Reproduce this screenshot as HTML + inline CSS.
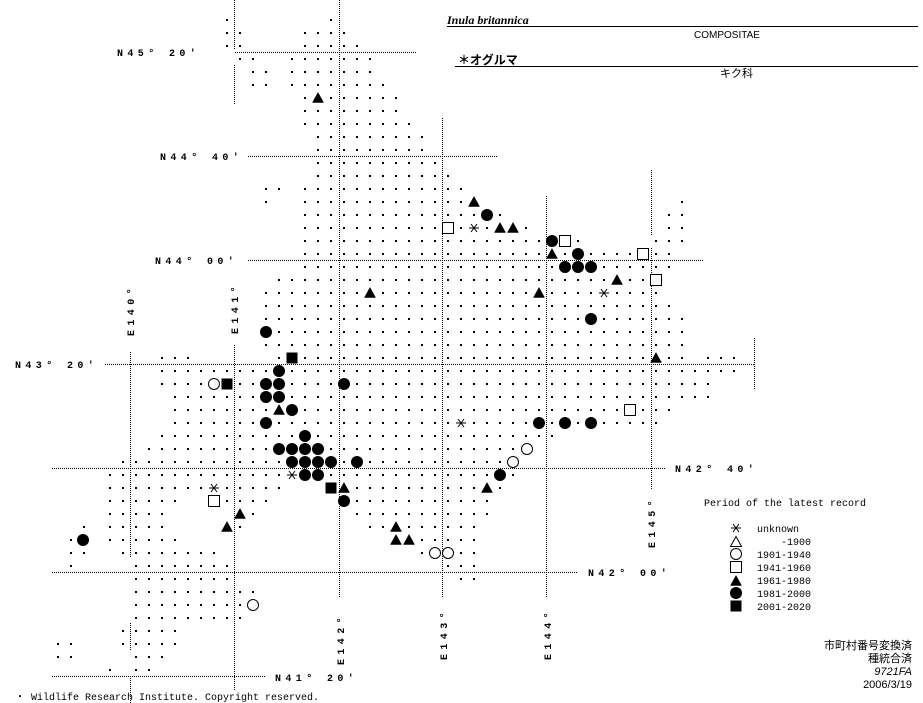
<!DOCTYPE html>
<html><head><meta charset="utf-8"><style>
html,body{margin:0;padding:0;background:#fff;width:923px;height:703px;overflow:hidden}
svg{display:block}
.lab{font-family:"Liberation Mono",monospace;font-weight:bold;font-size:10px;letter-spacing:4.4px}
.leg{font-family:"Liberation Mono",monospace;font-size:10px}
</style></head><body>
<svg id="s" width="923" height="703" xmlns="http://www.w3.org/2000/svg">
<g stroke="#000" stroke-width="1" stroke-dasharray="1,1" fill="none">
<line x1="235" y1="52.5" x2="417" y2="52.5"/>
<line x1="248" y1="156.5" x2="497" y2="156.5"/>
<line x1="248" y1="260.5" x2="703" y2="260.5"/>
<line x1="105" y1="364.5" x2="755" y2="364.5"/>
<line x1="52" y1="468.5" x2="665" y2="468.5"/>
<line x1="52" y1="572.5" x2="578" y2="572.5"/>
<line x1="52" y1="676.5" x2="265" y2="676.5"/>
<line x1="130.5" y1="352" x2="130.5" y2="558"/>
<line x1="130.5" y1="623" x2="130.5" y2="650"/>
<line x1="130.5" y1="678" x2="130.5" y2="703"/>
<line x1="234.5" y1="0" x2="234.5" y2="50"/>
<line x1="234.5" y1="65" x2="234.5" y2="105"/>
<line x1="234.5" y1="345" x2="234.5" y2="690"/>
<line x1="339.5" y1="0" x2="339.5" y2="598"/>
<line x1="442.5" y1="118" x2="442.5" y2="598"/>
<line x1="546.5" y1="196" x2="546.5" y2="598"/>
<line x1="651.5" y1="170" x2="651.5" y2="236"/>
<line x1="651.5" y1="248" x2="651.5" y2="490"/>
<line x1="754.5" y1="338" x2="754.5" y2="390"/>
</g>
<g class="lab">
<text x="117" y="56">N45° 20′</text>
<text x="160" y="160">N44° 40′</text>
<text x="155" y="264">N44° 00′</text>
<text x="15" y="368">N43° 20′</text>
<text x="675" y="472">N42° 40′</text>
<text x="588" y="576">N42° 00′</text>
<text x="275" y="681">N41° 20′</text>
<text transform="translate(134,336) rotate(-90)">E140°</text>
<text transform="translate(238,334) rotate(-90)">E141°</text>
<text transform="translate(344,665) rotate(-90)">E142°</text>
<text transform="translate(447,660) rotate(-90)">E143°</text>
<text transform="translate(551,660) rotate(-90)">E144°</text>
<text transform="translate(655,548) rotate(-90)">E145°</text>
</g>
<g id="dots" fill="#000"></g>
<g id="sym"></g>
<text x="447" y="24" style="font-family:'Liberation Serif',serif;font-style:italic;font-weight:bold;font-size:12px">Inula britannica</text>
<line x1="447" y1="26.5" x2="918" y2="26.5" stroke="#000"/>
<text x="727" y="38" text-anchor="middle" style="font-family:'Liberation Sans',sans-serif;font-size:10px">COMPOSITAE</text>
<text x="458" y="64" style="font-family:'Liberation Sans','Noto Sans CJK JP',sans-serif;font-weight:bold;font-size:12px">＊オグルマ</text>
<line x1="455" y1="66.5" x2="918" y2="66.5" stroke="#000"/>
<text x="720" y="77" style="font-family:'Liberation Sans','Noto Sans CJK JP',sans-serif;font-size:11px">キク科</text>
<g class="leg">
<text x="704" y="506">Period of the latest record</text>
<text x="757" y="532">unknown</text>
<text x="811" y="545" text-anchor="end">-1900</text>
<text x="757" y="558">1901-1940</text>
<text x="757" y="571">1941-1960</text>
<text x="757" y="584">1961-1980</text>
<text x="757" y="597">1981-2000</text>
<text x="757" y="610">2001-2020</text>
</g>
<g style="font-family:'Liberation Sans','Noto Sans CJK JP',sans-serif;font-size:11px" text-anchor="end">
<text x="912" y="649">市町村番号変換済</text>
<text x="912" y="662">種統合済</text>
<text x="912" y="675" font-style="italic">9721FA</text>
<text x="912" y="688">2006/3/19</text>
</g>
<text x="15" y="700" class="leg">・ Wildlife Research Institute. Copyright reserved.</text>
</svg>
<script>
var R={0:[[227],[331]],1:[[227,240],[305,344]],2:[[227,240],[305,357]],3:[[240,253],[292,370]],4:[[253,266],[292,370]],5:[[253,266],[292,383]],
6:[[305,396]],7:[[305,396]],8:[[305,409]],9:[[318,422]],10:[[318,422]],11:[[318,435]],12:[[318,448]],
13:[[266,279],[305,461]],14:[[266],[305,474],[682]],15:[[305,500],[669,682]],16:[[305,526],[669,682]],17:[[305,578],[656,682]],
18:[[305,669]],19:[[305,669]],20:[[279,656]],21:[[266,656]],22:[[266,669]],23:[[266,682]],24:[[266,682]],25:[[266,682]],
26:[[162,188],[279,682],[708,734]],27:[[162,734]],28:[[162,708]],29:[[175,708]],30:[[175,669]],31:[[175,656]],32:[[162,552]],
33:[[149,526]],34:[[123,513]],35:[[110,513]],36:[[110,280],[331,500]],37:[[110,175],[214,266],[344,487]],38:[[110,162],[240,253],[357,487]],
39:[[83],[110,162],[227,240],[370,474]],40:[[70,83],[110,175],[396,474]],41:[[70,83],[123,214],[422,474]],42:[[70],[136,227],[448,474]],
43:[[136,227],[461,474]],44:[[136,253]],45:[[136,253]],46:[[136,240]],47:[[123,173]],48:[[57,70],[123,173]],49:[[57,70],[136,162]],50:[[110],[136,149]]};
var h="";
for(var r in R){var y=20+13*r;R[r].forEach(function(s){var a=Math.round((s[0]-227)/13),b=Math.round(((s[1]||s[0])-227)/13);
for(var c=a;c<=b;c++){var x=227+13*c;h+='<rect x="'+(x-1)+'" y="'+(y-1)+'" width="2" height="2"/>';}});}
document.getElementById("dots").innerHTML=h;
function tri(x,y,f){return '<polygon points="'+x+','+(y-5.5)+' '+(x+5.5)+','+(y+4.5)+' '+(x-5.5)+','+(y+4.5)+'" fill="'+(f?'#000':'#fff')+'" stroke="#000" stroke-width="'+(f?0.5:1)+'"/>';}
function cir(x,y,f){return '<circle cx="'+x+'" cy="'+y+'" r="'+(f?6:5.5)+'" fill="'+(f?'#000':'#fff')+'" stroke="#000" stroke-width="'+(f?0:1)+'"/>';}
function sq(x,y,f){return f?'<rect x="'+(x-5.5)+'" y="'+(y-5.5)+'" width="11" height="11" fill="#000"/>':'<rect x="'+(x-5.5)+'" y="'+(y-5.5)+'" width="11" height="11" fill="#fff" stroke="#000"/>';}
function ast(x,y){return '<rect x="'+(x-6)+'" y="'+(y-5)+'" width="12" height="10" fill="#fff"/><g stroke="#000" stroke-width="1"><line x1="'+(x-5)+'" y1="'+y+'" x2="'+(x+5)+'" y2="'+y+'"/><line x1="'+(x-3)+'" y1="'+(y-4)+'" x2="'+(x+3)+'" y2="'+(y+4)+'"/><line x1="'+(x+3)+'" y1="'+(y-4)+'" x2="'+(x-3)+'" y2="'+(y+4)+'"/></g>';}
var T=[[318,98],[474,202],[500,228],[513,228],[552,254],[617,280],[370,293],[539,293],[656,358],[279,410],[344,488],[487,488],[240,514],[227,527],[396,527],[396,540],[409,540]];
var C=[[487,215],[552,241],[578,254],[565,267],[578,267],[591,267],[591,319],[266,332],[279,371],[266,384],[279,384],[344,384],[266,397],[279,397],[292,410],[266,423],[539,423],[565,423],[591,423],[305,436],[279,449],[292,449],[305,449],[318,449],[292,462],[305,462],[318,462],[331,462],[357,462],[305,475],[318,475],[344,501],[500,475],[83,540]];
var OC=[[214,384],[513,462],[527,449],[435,553],[448,553],[253,605]];
var OS=[[448,228],[565,241],[643,254],[656,280],[630,410],[214,501]];
var FS=[[292,358],[227,384],[331,488]];
var A=[[474,228],[604,293],[461,423],[292,475],[214,488]];
var g="";
T.forEach(function(p){g+=tri(p[0],p[1],1)});
C.forEach(function(p){g+=cir(p[0],p[1],1)});
OC.forEach(function(p){g+=cir(p[0],p[1],0)});
OS.forEach(function(p){g+=sq(p[0],p[1],0)});
FS.forEach(function(p){g+=sq(p[0],p[1],1)});
A.forEach(function(p){g+=ast(p[0],p[1])});
g+=ast(736,528)+tri(736,542,0)+cir(736,554,0)+sq(736,567,0)+tri(736,581,1)+cir(736,593,1)+sq(736,606,1);
document.getElementById("sym").innerHTML=g;
</script>
</body></html>
